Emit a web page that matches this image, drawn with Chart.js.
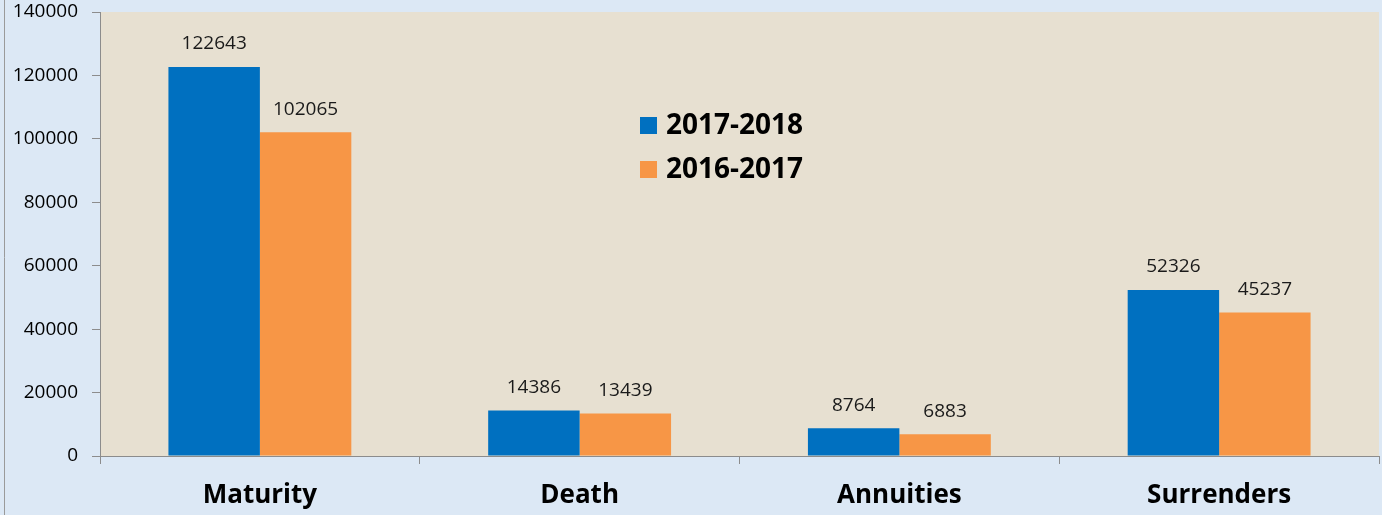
<!DOCTYPE html>
<html>
<head>
<meta charset="utf-8">
<script src="https://cdn.jsdelivr.net/npm/chart.js@4"></script>
<style>
  html, body { margin: 0; padding: 0; background: #dce8f5; }
  #wrap { width: 1382px; height: 515px; position: relative; }
</style>
</head>
<body>
<div id="wrap"><canvas id="myChart"></canvas></div>
<script>
const categories = ['Maturity', 'Death', 'Annuities', 'Surrenders'];
const seriesNames = ['2017-2018', '2016-2017'];
const values2017_18 = [122643, 14386, 8764, 52326];
const values2016_17 = [102065, 13439, 6883, 45237];
const yTicks = [0, 20000, 40000, 60000, 80000, 100000, 120000, 140000];

const blue = '#0070C0';
const orange = '#F79646';
const font = "'Open Sans', 'Liberation Sans', sans-serif";

// backgrounds: light blue page + beige plot area
const bgPlugin = {
  id: 'bg',
  beforeDraw(chart) {
    const c = chart.ctx, a = chart.chartArea;
    c.save();
    c.fillStyle = '#dce8f5';
    c.fillRect(0, 0, chart.width, chart.height);
    c.fillStyle = '#e7e0d1';
    c.fillRect(a.left, a.top, a.right - a.left, a.bottom - a.top);
    c.strokeStyle = '#9a9a9a';
    c.lineWidth = 1;
    c.beginPath();
    c.moveTo(4.5, 0);
    c.lineTo(4.5, chart.height);
    c.stroke();
    c.restore();
  }
};

// value labels above the bars
const labelPlugin = {
  id: 'barLabels',
  afterDatasetsDraw(chart) {
    const c = chart.ctx;
    c.save();
    c.font = '19px ' + font;
    c.fillStyle = '#1a1a1a';
    c.textAlign = 'center';
    c.textBaseline = 'middle';
    chart.data.datasets.forEach((ds, i) => {
      chart.getDatasetMeta(i).data.forEach((bar, j) => {
        c.fillText(ds.data[j], bar.x, bar.y - 23);
      });
    });
    c.restore();
  }
};

// legend drawn inside the plot area
const legendPlugin = {
  id: 'innerLegend',
  afterDraw(chart) {
    const c = chart.ctx;
    const x = 640, y0 = 125, gap = 44;
    c.save();
    c.font = 'bold 28px ' + font;
    c.textBaseline = 'middle';
    chart.data.datasets.forEach((ds, i) => {
      const y = y0 + i * gap;
      c.fillStyle = ds.backgroundColor;
      c.fillRect(x, y - 8, 17, 17);
      c.fillStyle = '#000';
      c.fillText(ds.label, x + 26, y + 1);
    });
    c.restore();
  }
};

const ctx = document.getElementById('myChart').getContext('2d');
const claimsChart = new Chart(ctx, {
  type: 'bar',
  data: {
    labels: categories,
    datasets: [
      { label: seriesNames[0], data: values2017_18, backgroundColor: blue },
      { label: seriesNames[1], data: values2016_17, backgroundColor: orange }
    ]
  },
  options: {
    responsive: true,
    maintainAspectRatio: false,
    animation: false,
    layout: { padding: { left: 0, right: 3, top: 12, bottom: 0 } },
    plugins: {
      legend: { display: false },
      tooltip: { enabled: false }
    },
    datasets: {
      bar: { barPercentage: 1, categoryPercentage: 0.572 }
    },
    scales: {
      x: {
        grid: { display: true, drawOnChartArea: false, color: '#8c8c8c', tickLength: 8, offset: true },
        border: { color: '#8c8c8c' },
        ticks: { color: '#000', font: { size: 26, weight: 'bold', family: font }, padding: 16 },
        afterFit(scale) { scale.height = 59; scale.paddingLeft = 0; scale.paddingRight = 0; }
      },
      y: {
        min: 0,
        max: 140000,
        afterBuildTicks(scale) { scale.ticks = yTicks.map(v => ({ value: v })); },
        grid: { display: true, drawOnChartArea: false, color: '#8c8c8c', tickLength: 8 },
        border: { color: '#8c8c8c' },
        ticks: { color: '#000', font: { size: 19, family: font }, padding: 14, callback: v => String(v) },
        afterFit(scale) { scale.width = 100; scale.paddingTop = 0; scale.paddingBottom = 0; }
      }
    }
  },
  plugins: [bgPlugin, labelPlugin, legendPlugin]
});
</script>
</body>
</html>
